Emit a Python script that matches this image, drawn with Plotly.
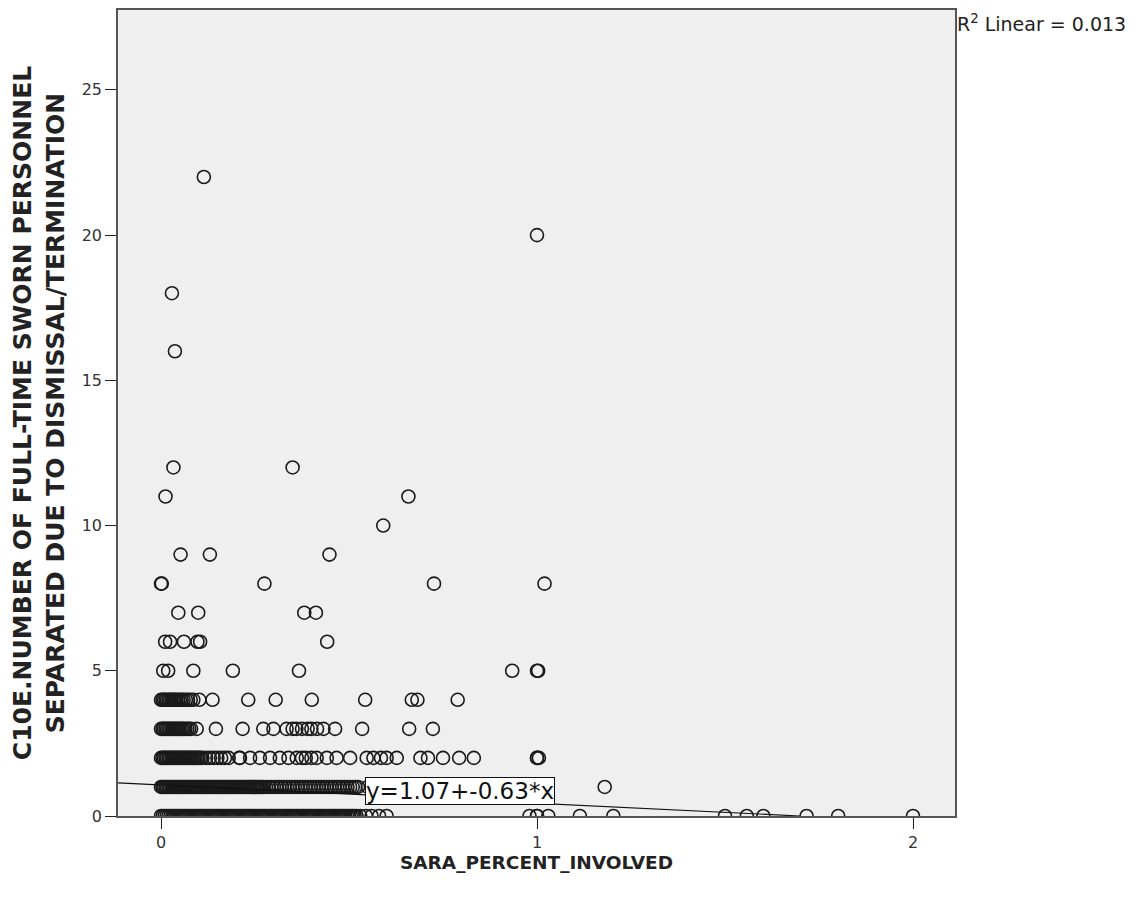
import plotly.graph_objects as go

# ---- data: x values (SARA_PERCENT_INVOLVED) grouped by y level (C10E count) ----
y_levels = [0, 1, 2, 3, 4, 5, 6, 7, 8, 9, 10, 11, 12, 16, 18, 20, 22]

x_y0 = [0.000, 0.005, 0.010, 0.015, 0.020, 0.025, 0.030, 0.035, 0.040, 0.045,
        0.050, 0.055, 0.060, 0.065, 0.070, 0.075, 0.080, 0.085, 0.090, 0.095,
        0.100, 0.105, 0.110, 0.115, 0.120, 0.125, 0.130, 0.135, 0.140, 0.145,
        0.150, 0.155, 0.160, 0.165, 0.170, 0.175, 0.180, 0.185, 0.190, 0.195,
        0.200, 0.205, 0.210, 0.215, 0.220, 0.225, 0.230, 0.235, 0.240, 0.245,
        0.250, 0.255, 0.260, 0.265, 0.270, 0.275, 0.280, 0.285, 0.290, 0.295,
        0.300, 0.305, 0.310, 0.315, 0.320, 0.325, 0.330, 0.335, 0.340, 0.345,
        0.350, 0.355, 0.360, 0.365, 0.370, 0.375, 0.380, 0.385, 0.390, 0.395,
        0.400, 0.405, 0.410, 0.415, 0.420, 0.425, 0.430, 0.435, 0.440, 0.445,
        0.450, 0.455, 0.460, 0.465, 0.470, 0.475, 0.480, 0.485, 0.490, 0.495,
        0.500, 0.505, 0.510, 0.515, 0.520, 0.530, 0.545, 0.560, 0.580, 0.600,
        0.98, 1.0, 1.0, 1.03, 1.114, 1.203, 1.5, 1.558, 1.602, 1.717, 1.801, 2.0]
x_y1 = [0.000, 0.004, 0.008, 0.012, 0.016, 0.020, 0.024, 0.028, 0.032, 0.036,
        0.040, 0.044, 0.048, 0.052, 0.056, 0.060, 0.064, 0.068, 0.072, 0.076,
        0.080, 0.084, 0.088, 0.092, 0.096, 0.100, 0.104, 0.108, 0.112, 0.116,
        0.120, 0.124, 0.128, 0.132, 0.136, 0.140, 0.144, 0.148, 0.152, 0.156,
        0.160, 0.164, 0.168, 0.172, 0.176, 0.180, 0.184, 0.188, 0.192, 0.196,
        0.200, 0.204, 0.208, 0.212, 0.216, 0.220, 0.224, 0.228, 0.232, 0.236,
        0.240, 0.244, 0.248, 0.252, 0.256, 0.260, 0.264, 0.268, 0.272, 0.279,
        0.286, 0.293, 0.300, 0.307, 0.314, 0.321, 0.328, 0.335, 0.342, 0.349,
        0.356, 0.363, 0.370, 0.377, 0.384, 0.391, 0.398, 0.405, 0.412, 0.419,
        0.426, 0.433, 0.440, 0.447, 0.454, 0.461, 0.468, 0.475, 0.482, 0.489,
        0.496, 0.503, 0.510, 0.517, 0.524, 0.550, 0.600, 1.0, 1.18]
x_y2 = [0.000, 0.004, 0.008, 0.012, 0.016, 0.020, 0.024, 0.028, 0.032, 0.036,
        0.040, 0.044, 0.048, 0.052, 0.056, 0.060, 0.064, 0.068, 0.072, 0.076,
        0.080, 0.084, 0.088, 0.092, 0.096, 0.100, 0.105, 0.110, 0.120, 0.130,
        0.140, 0.150, 0.160, 0.170, 0.180, 0.208, 0.210, 0.237, 0.263, 0.290,
        0.316, 0.339, 0.361, 0.375, 0.385, 0.400, 0.414, 0.441, 0.467, 0.503,
        0.547, 0.565, 0.585, 0.600, 0.627, 0.690, 0.710, 0.750, 0.793, 0.832,
        1.0, 1.0, 1.005]
x_y3 = [0.000, 0.004, 0.008, 0.012, 0.016, 0.020, 0.024, 0.028, 0.032, 0.036,
        0.040, 0.044, 0.048, 0.052, 0.056, 0.060, 0.065, 0.070, 0.075, 0.080,
        0.095, 0.146, 0.217, 0.272, 0.299, 0.334, 0.350, 0.360, 0.375, 0.390,
        0.400, 0.415, 0.432, 0.463, 0.535, 0.660, 0.723]
x_y4 = [0.000, 0.004, 0.008, 0.012, 0.016, 0.020, 0.024, 0.028, 0.032, 0.036,
        0.040, 0.045, 0.050, 0.055, 0.060, 0.066, 0.072, 0.079, 0.086, 0.102,
        0.137, 0.232, 0.305, 0.401, 0.543, 0.667, 0.682, 0.789]
x_y5 = [0.006, 0.019, 0.086, 0.191, 0.367, 0.934, 1.0, 1.003]
x_y6 = [0.011, 0.024, 0.061, 0.097, 0.104, 0.442]
x_y7 = [0.046, 0.099, 0.381, 0.412]
x_y8 = [0.0, 0.002, 0.275, 0.726, 1.02]
x_y9 = [0.052, 0.130, 0.448]
x_y10 = [0.591]
x_y11 = [0.012, 0.658]
x_y12 = [0.033, 0.35]
x_y16 = [0.037]
x_y18 = [0.029]
x_y20 = [1.0]
x_y22 = [0.114]

x_groups = [x_y0, x_y1, x_y2, x_y3, x_y4, x_y5, x_y6, x_y7, x_y8, x_y9, x_y10,
            x_y11, x_y12, x_y16, x_y18, x_y20, x_y22]

# fit line reported in the chart
fit_intercept = 1.07
fit_slope = -0.63
r2_linear = 0.013

x_ticks = [0, 1, 2]
y_ticks = [0, 5, 10, 15, 20, 25]
x_range = [-0.1144, 2.1117]
y_range = [0, 27.75]

xs, ys = [], []
for lvl, grp in zip(y_levels, x_groups):
    xs.extend(grp)
    ys.extend([lvl] * len(grp))

x_zero = -fit_intercept / fit_slope
line_x = [x_range[0], x_zero]
line_y = [fit_intercept + fit_slope * v for v in line_x]

fig = go.Figure()
fig.add_trace(go.Scatter(
    x=xs, y=ys, mode="markers",
    marker=dict(symbol="circle-open", size=13, color="#1a1a1a",
                line=dict(width=1.6, color="#1a1a1a")),
    cliponaxis=True, showlegend=False, hoverinfo="x+y"))
fig.add_trace(go.Scatter(
    x=line_x, y=line_y, mode="lines",
    line=dict(color="#111111", width=1.2), showlegend=False, hoverinfo="skip"))

fig.add_annotation(
    x=0.795, y=0.86, xref="x", yref="y", showarrow=False,
    text=f"y={fit_intercept:.2f}+{fit_slope:.2f}*x",
    font=dict(family="DejaVu Sans", size=23, color="#111111"),
    bgcolor="white", bordercolor="#111111", borderwidth=1, borderpad=0)

fig.add_annotation(
    x=1.0, y=1.0, xref="paper", yref="paper", xanchor="left", yanchor="middle",
    xshift=0, yshift=-13, showarrow=False,
    text=f"R<sup>2</sup> Linear = {r2_linear:.3f}",
    font=dict(family="DejaVu Sans", size=19, color="#222222"))

axis_common = dict(
    showgrid=False, zeroline=False, showline=True, mirror=True,
    linecolor="#555555", linewidth=1.5, ticks="outside", ticklen=11,
    tickcolor="#222222", tickwidth=1.2,
    tickfont=dict(family="DejaVu Sans", size=16, color="#333333"))

fig.update_xaxes(range=x_range, tickvals=x_ticks, ticktext=[str(t) for t in x_ticks],
                 title=dict(text="<b>SARA_PERCENT_INVOLVED</b>", standoff=1,
                            font=dict(family="DejaVu Sans", size=18.5,
                                      color="#222222")),
                 **axis_common)
fig.update_yaxes(range=y_range, tickvals=y_ticks, ticktext=[str(t) for t in y_ticks],
                 title=dict(text="<b>C10E.NUMBER OF FULL-TIME SWORN PERSONNEL<br>"
                                 "SEPARATED DUE TO DISMISSAL/TERMINATION</b>",
                            standoff=20,
                            font=dict(family="DejaVu Sans", size=25,
                                      color="#222222")),
                 **axis_common)

fig.update_layout(
    width=1136, height=893,
    margin=dict(l=110, r=189, t=0, b=85, pad=0),
    plot_bgcolor="#efefef", paper_bgcolor="white",
    font=dict(family="DejaVu Sans"))

fig.write_html("out.html")
